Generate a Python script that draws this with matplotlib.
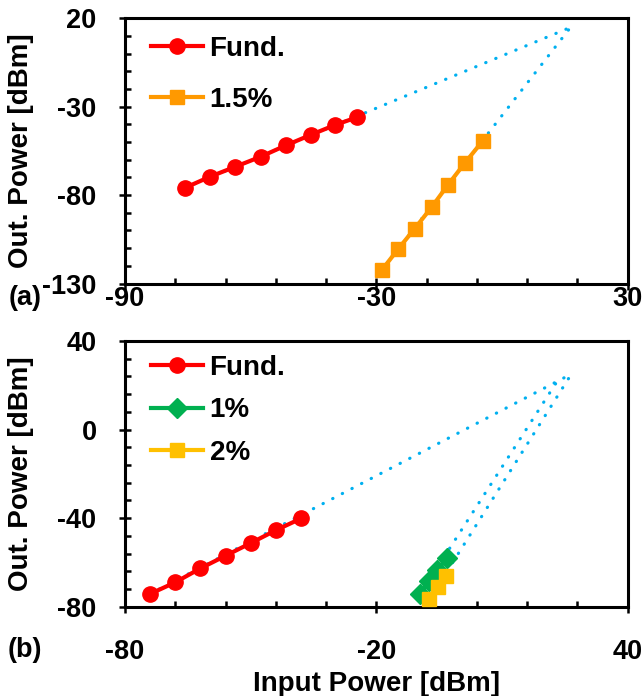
import matplotlib
matplotlib.use("Agg")
import matplotlib.pyplot as plt
from matplotlib.ticker import MultipleLocator

plt.rcParams['font.family'] = ['Liberation Sans', 'DejaVu Sans']
plt.rcParams['font.weight'] = 'bold'
plt.rcParams['axes.unicode_minus'] = False

# ---- data (a) ----
a_fund_x = [-75.7, -69.7, -63.7, -57.6, -51.6, -45.7, -39.9, -34.6]
a_fund_y = [-75.9, -69.6, -64.0, -58.3, -51.9, -46.0, -40.4, -36.0]
a_h15_x = [-28.7, -24.8, -20.8, -16.7, -12.9, -8.9, -4.6]
a_h15_y = [-122.5, -110.6, -98.9, -86.6, -74.3, -62.0, -49.4]
a_ip3 = [16.4, 14.9]

# ---- data (b) ----
b_fund_x = [-74.1, -68.0, -62.0, -56.0, -49.9, -43.9, -37.9]
b_fund_y = [-74.3, -69.0, -62.7, -57.0, -51.2, -45.4, -40.1]
b_h1_x = [-9.5, -7.5, -5.5, -3.1]
b_h1_y = [-74.3, -68.3, -63.5, -58.2]
b_h2_x = [-7.3, -5.3, -3.3]
b_h2_y = [-76.7, -71.0, -66.2]
b_ip3_1 = [23.1, 21.5]
b_ip3_2 = [26.6, 25.1]

labels_a = ['Fund.', '1.5%']
labels_b = ['Fund.', '1%', '2%']

RED = '#FF0000'
ORANGE = '#FF9900'
GREEN = '#00B050'
YELLOW = '#FFC000'
BLUE = '#00B0F0'

W, H = 644, 696
fig = plt.figure(figsize=(W / 100, H / 100), dpi=100)
ax1 = fig.add_axes([125 / W, 1 - 283.5 / H, (627.5 - 125) / W, (283.5 - 18.3) / H])
ax2 = fig.add_axes([125 / W, 1 - 606.7 / H, (627.5 - 125) / W, (606.7 - 341) / H])

dot_kw = dict(color=BLUE, lw=2.3, linestyle=(0, (0.1, 3.3)), dash_capstyle='round', zorder=1)


def trend(ax, xs, ys, end):
    ax.plot([xs[0], end[0]], [ys[0], end[1]], **dot_kw)


# (a)
trend(ax1, a_fund_x, a_fund_y, a_ip3)
trend(ax1, a_h15_x, a_h15_y, a_ip3)
ax1.plot(a_fund_x, a_fund_y, color=RED, lw=3, marker='o', ms=11, label=labels_a[0], zorder=3)
ax1.plot(a_h15_x, a_h15_y, color=ORANGE, lw=3, marker='s', ms=10, label=labels_a[1], zorder=3)

# (b)
trend(ax2, b_fund_x, b_fund_y, b_ip3_2)
trend(ax2, b_h1_x, b_h1_y, b_ip3_1)
trend(ax2, b_h2_x, b_h2_y, b_ip3_2)
ax2.plot(b_fund_x, b_fund_y, color=RED, lw=3, marker='o', ms=11, label=labels_b[0], zorder=3)
ax2.plot(b_h1_x, b_h1_y, color=GREEN, lw=3, marker='D', ms=10.5, label=labels_b[1], zorder=3)
ax2.plot(b_h2_x, b_h2_y, color=YELLOW, lw=3, marker='s', ms=10, label=labels_b[2], zorder=3,
         clip_on=False)

ax1.set_xlim(-90, 30)
ax1.set_ylim(-130, 20)
ax1.xaxis.set_major_locator(MultipleLocator(60, offset=30))
ax1.xaxis.set_minor_locator(MultipleLocator(12, offset=6))
ax1.yaxis.set_major_locator(MultipleLocator(50, offset=20))
ax1.yaxis.set_minor_locator(MultipleLocator(10))

ax2.set_xlim(-80, 40)
ax2.set_ylim(-80, 40)
ax2.xaxis.set_major_locator(MultipleLocator(60, offset=40))
ax2.xaxis.set_minor_locator(MultipleLocator(12, offset=4))
ax2.yaxis.set_major_locator(MultipleLocator(40))
ax2.yaxis.set_minor_locator(MultipleLocator(8))

for ax in (ax1, ax2):
    for s in ax.spines.values():
        s.set_linewidth(2.2)
    ax.tick_params(which='major', direction='inout', length=9, width=1.8, labelsize=19.5)
    ax.tick_params(which='minor', direction='in', length=4.5, width=1.8)
    ax.tick_params(axis='y', which='major', pad=16)
    ax.set_ylabel('Out. Power [dBm]', fontsize=20, fontweight='bold')
    for lab in ax.get_xticklabels() + ax.get_yticklabels():
        lab.set_fontweight('bold')
    ax.yaxis.set_label_coords(-0.181, 0.5)

ax1.tick_params(axis='x', which='major', pad=-2.5)
ax2.tick_params(axis='x', which='major', pad=19)
ax2.set_xlabel('Input Power [dBm]', fontsize=20, fontweight='bold', labelpad=4)

leg_kw = dict(loc='upper left', frameon=False, handlelength=1.85, handletextpad=0.25,
              borderaxespad=0, prop={'size': 20, 'weight': 'bold'})
ax1.legend(bbox_to_anchor=(0.03, 0.975), labelspacing=0.9, **leg_kw)
ax2.legend(bbox_to_anchor=(0.03, 0.99), labelspacing=0.6, **leg_kw)

fig.text(25 / W, 1 - 298 / H, '(a)', fontsize=19.5, fontweight='bold', ha='center', va='center')
fig.text(25 / W, 1 - 650 / H, '(b)', fontsize=19.5, fontweight='bold', ha='center', va='center')

fig.savefig('out.png', dpi=100)
